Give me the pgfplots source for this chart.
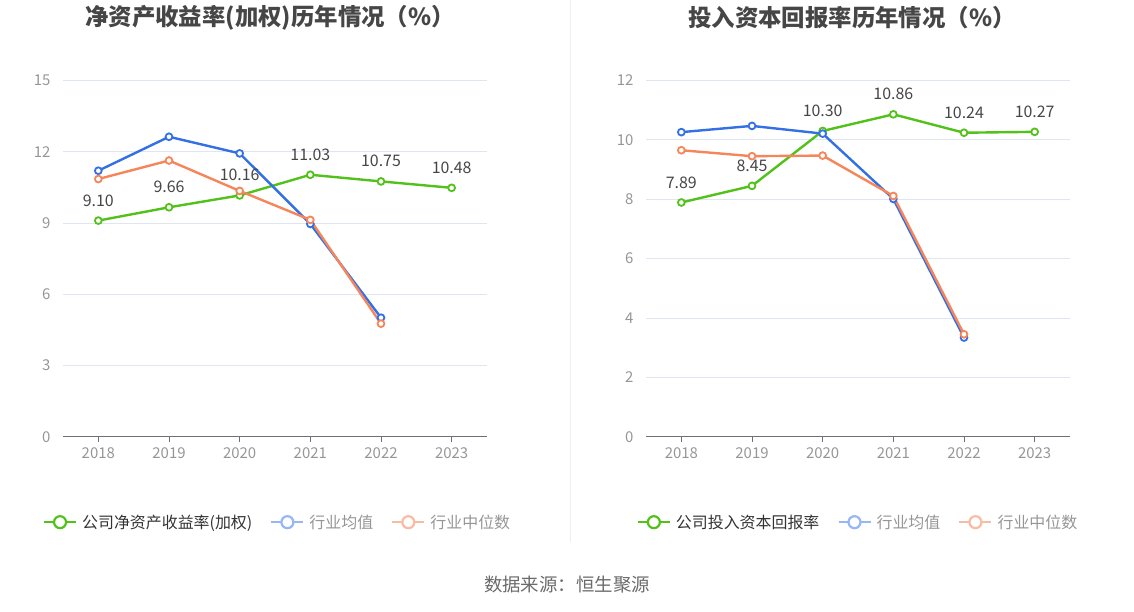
\documentclass[border=0pt]{standalone}
\usepackage{fontspec}
\setmainfont{Noto Sans CJK SC}
\usepackage{pgfplots}
\pgfplotsset{compat=1.18}
\definecolor{cgreen}{RGB}{82,194,26}
\definecolor{cblue}{RGB}{51,112,230}
\definecolor{corange}{RGB}{247,133,90}
\definecolor{lblue}{RGB}{150,182,245}
\definecolor{lorange}{RGB}{250,187,163}
\definecolor{gridc}{RGB}{224,230,241}
\definecolor{axisc}{RGB}{110,112,121}
\definecolor{tickc}{RGB}{150,150,150}
\definecolor{titlec}{RGB}{70,70,70}
\definecolor{labc}{RGB}{70,70,70}
\definecolor{divc}{RGB}{238,238,238}

\pgfplotstableread{
x g b o
0 9.10 11.20 10.85
1 9.66 12.63 11.63
2 10.16 11.93 10.35
3 11.03 8.96 9.13
4 10.75 5.01 4.76
5 10.48 nan nan
}\roe
\pgfplotstableread{
x g b o
0 7.89 10.26 9.65
1 8.45 10.47 9.45
2 10.30 10.21 9.47
3 10.86 8.01 8.11
4 10.24 3.34 3.45
5 10.27 nan nan
}\roic

\pgfplotsset{
  mystyle/.style={
    scale only axis, width=424bp, height=356.2bp,
    anchor=south west, clip=false,
    xmin=-0.5, xmax=5.5, ymin=0,
    xtick={0,...,5}, xticklabels={2018,2019,2020,2021,2022,2023},
    axis x line*=bottom, axis y line*=left,
    y axis line style={draw=none},
    x axis line style={color=axisc, line width=1bp, -},
    ytick style={draw=none},
    xtick style={color=axisc, line width=1bp},
    major tick length=5bp, tick align=outside,
    ymajorgrids, grid style={color=gridc, line width=0.8bp},
    ticklabel style={font=\fontsize{15}{15}\selectfont, text=tickc},
    /pgf/number format/assume math mode=true,
    xticklabel style={yshift=-2bp},
    yticklabel style={xshift=-4bp},
    legend style={draw=none, fill=none, legend columns=3,
      font=\fontsize{16}{16}\selectfont,
      /tikz/every odd column/.append style={column sep=3bp},
      /tikz/every even column/.append style={column sep=16bp}},
    legend cell align=left,
    legend image code/.code={
      \draw[#1, line width=2.2bp] (0bp,0bp) -- (32bp,0bp);
      \draw[#1, line width=2.2bp, fill=white] (16bp,0bp) circle (6bp);},
  },
  ser/.style={line width=2.4bp, color=#1, mark=*, mark size=3.4bp,
    mark options={fill=white, line width=1.8bp}, forget plot},
}

\begin{document}
\begin{tikzpicture}[x=1bp,y=1bp]
\path[use as bounding box] (0,0) rectangle (1134,612);
\draw[color=divc, line width=1bp] (570,612) -- (570,70);
\node[font=\bfseries\fontsize{23.5}{23.5}\selectfont, text=titlec] at (270,594) {净资产收益率(加权)历年情况（\%）};
\node[font=\bfseries\fontsize{23.5}{23.5}\selectfont, text=titlec] at (852,594) {投入资本回报率历年情况（\%）};
\node[font=\fontsize{18.5}{18.5}\selectfont, text=titlec!80] at (567,27) {数据来源：恒生聚源};

\begin{axis}[mystyle, at={(63bp,175.3bp)}, ymax=15, ytick={0,3,...,15},
  legend style={at={(0.506,-0.24)}, anchor=center}]
\addlegendimage{color=cgreen}
\addlegendentry{\textcolor[RGB]{51,51,51}{公司净资产收益率(加权)}}
\addlegendimage{color=lblue}
\addlegendentry{\textcolor{tickc}{行业均值}}
\addlegendimage{color=lorange}
\addlegendentry{\textcolor{tickc}{行业中位数}}
\addplot[ser=cgreen, nodes near coords, point meta=explicit symbolic,
  every node near coord/.style={anchor=south, yshift=10bp, font=\fontsize{16}{16}\selectfont, text=labc}]
  table[x=x, y=g, meta=g] {\roe};
\addplot[ser=cblue] table[x=x, y=b] {\roe};
\addplot[ser=corange] table[x=x, y=o] {\roe};
\end{axis}

\begin{axis}[mystyle, at={(646bp,175.3bp)}, ymax=12, ytick={0,2,...,12},
  legend style={at={(0.5,-0.24)}, anchor=center}]
\addlegendimage{color=cgreen}
\addlegendentry{\textcolor[RGB]{51,51,51}{公司投入资本回报率}}
\addlegendimage{color=lblue}
\addlegendentry{\textcolor{tickc}{行业均值}}
\addlegendimage{color=lorange}
\addlegendentry{\textcolor{tickc}{行业中位数}}
\addplot[ser=cgreen, nodes near coords, point meta=explicit symbolic,
  every node near coord/.style={anchor=south, yshift=10bp, font=\fontsize{16}{16}\selectfont, text=labc}]
  table[x=x, y=g, meta=g] {\roic};
\addplot[ser=cblue] table[x=x, y=b] {\roic};
\addplot[ser=corange] table[x=x, y=o] {\roic};
\end{axis}
\end{tikzpicture}
\end{document}
